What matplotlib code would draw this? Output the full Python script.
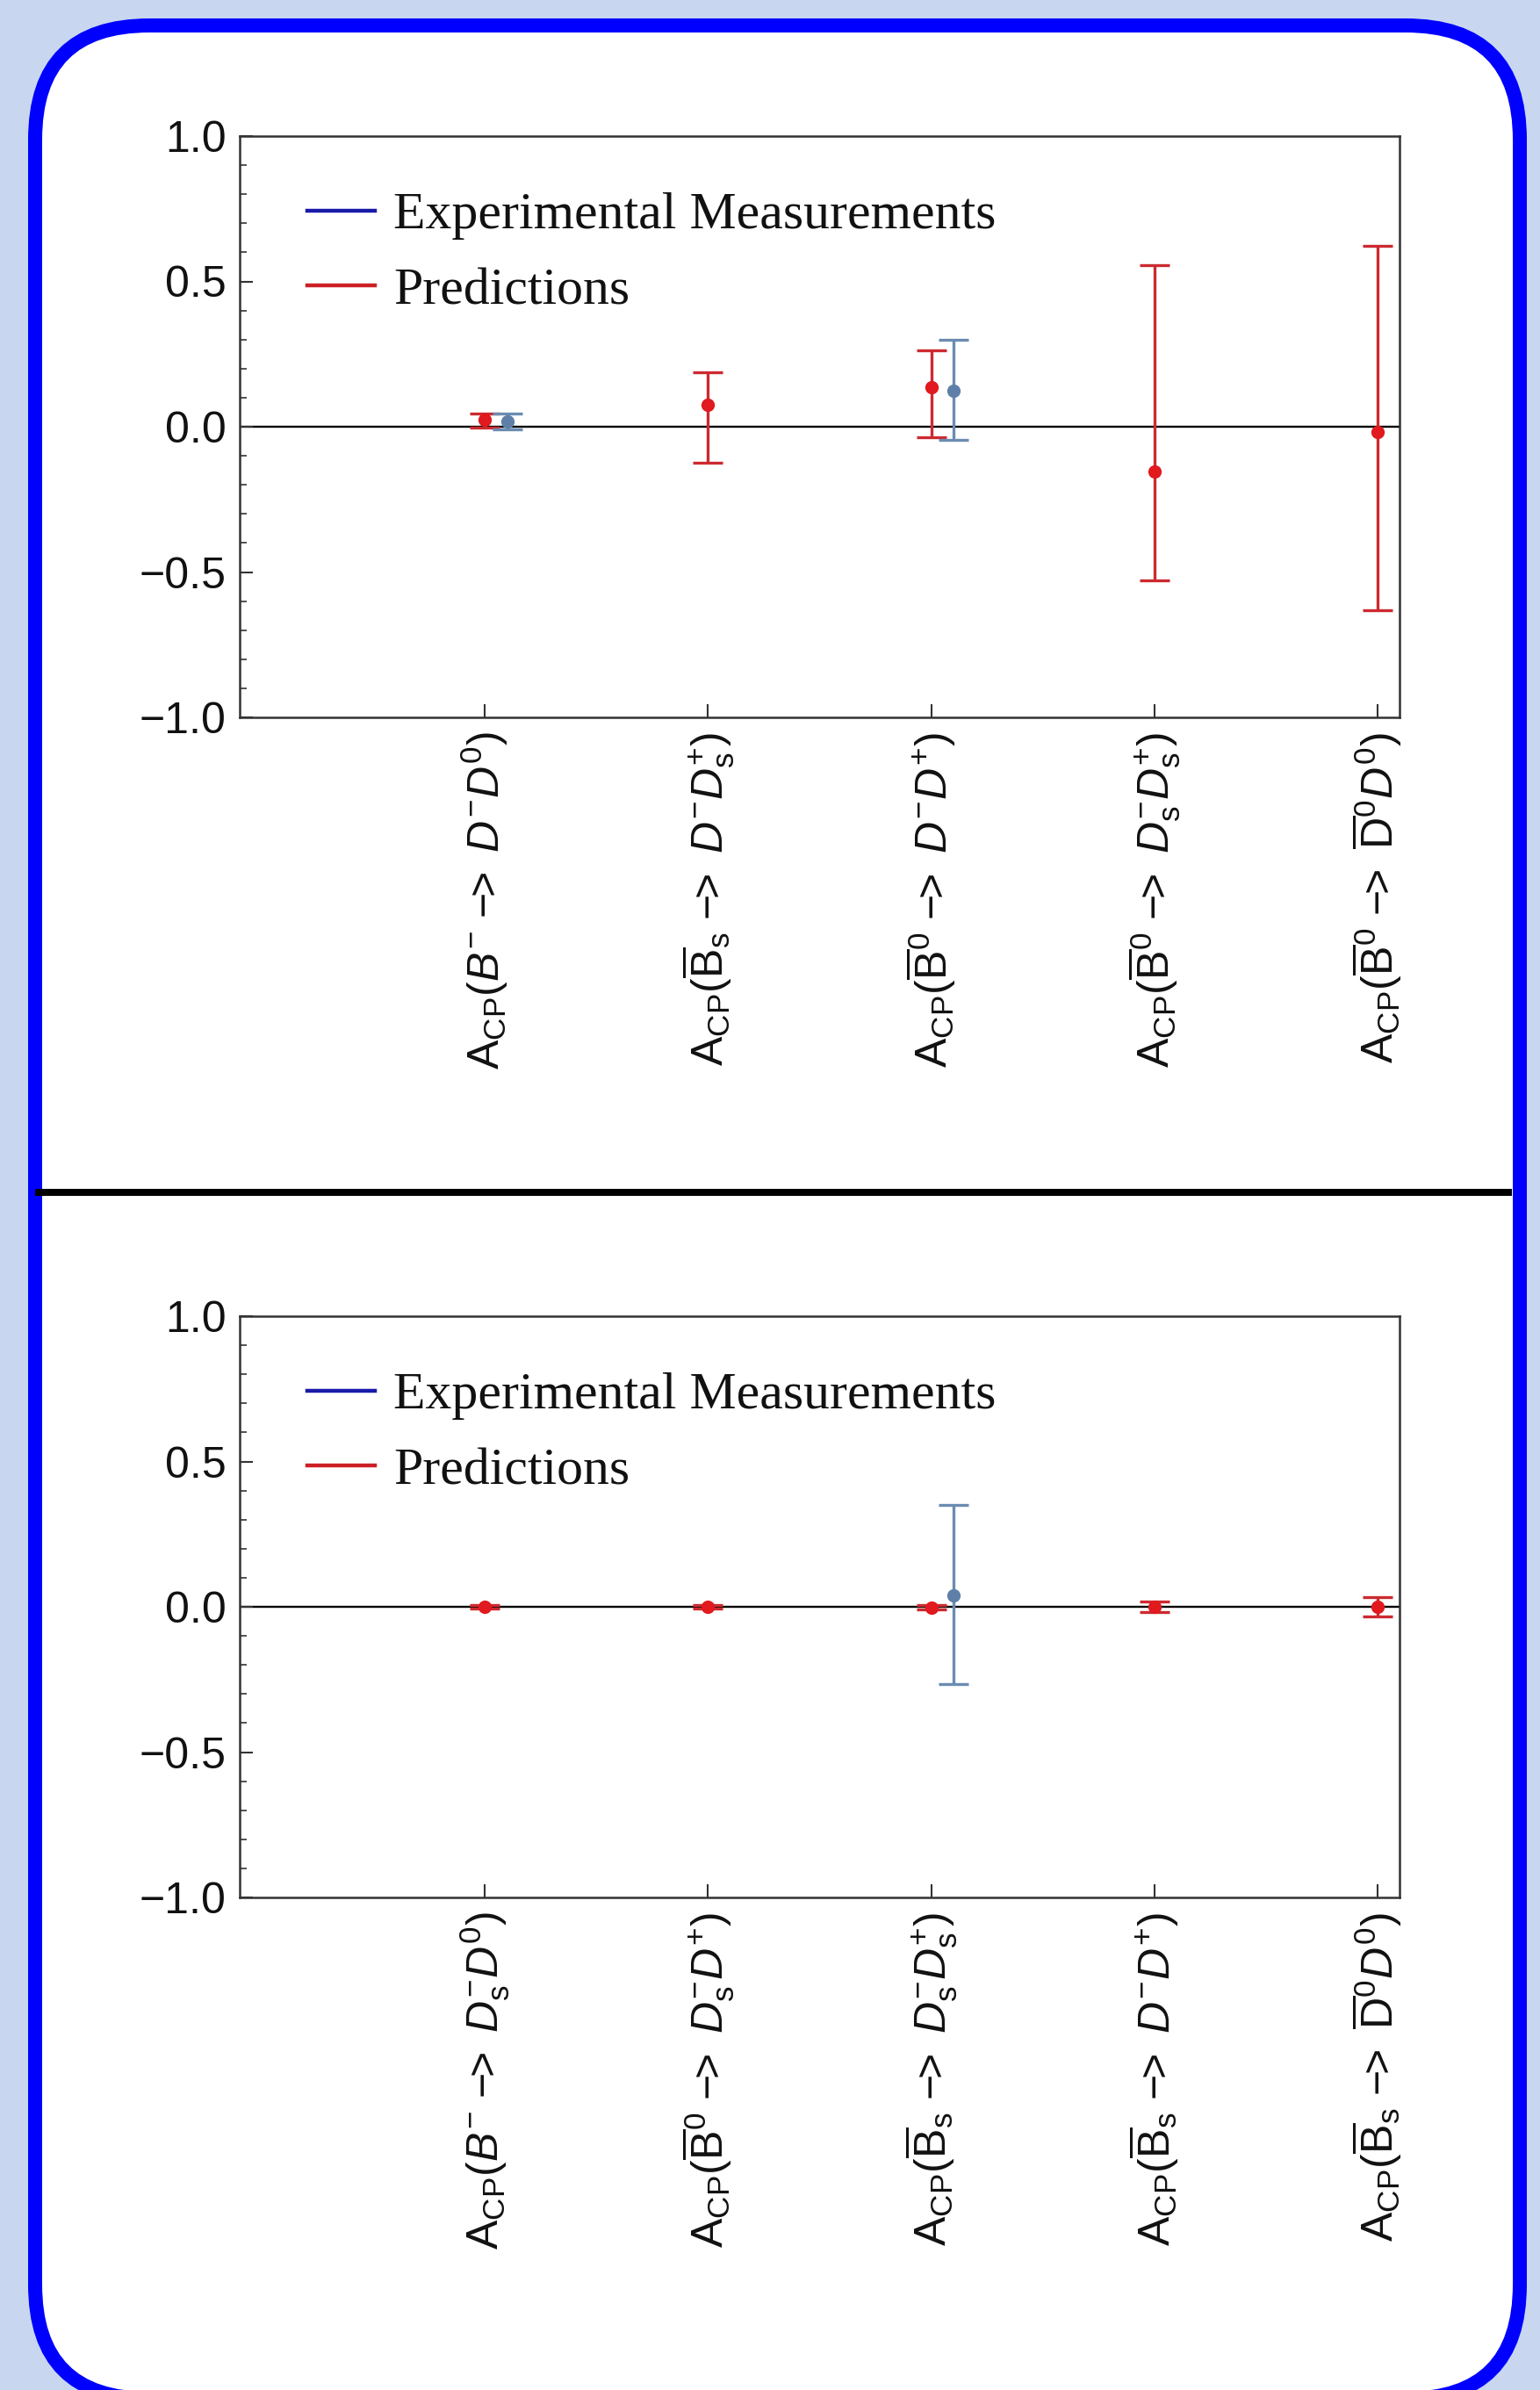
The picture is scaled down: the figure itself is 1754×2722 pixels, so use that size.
import matplotlib
matplotlib.use("Agg")
import matplotlib.pyplot as plt
from matplotlib.patches import FancyBboxPatch
from matplotlib.lines import Line2D
import numpy as np

plt.rcParams['mathtext.fontset'] = 'custom'
plt.rcParams['mathtext.rm'] = 'Liberation Sans'
plt.rcParams['mathtext.it'] = 'Liberation Sans:italic'
plt.rcParams['mathtext.bf'] = 'Liberation Sans:bold'
plt.rcParams['font.family'] = ['Liberation Sans', 'DejaVu Sans']

# ---------------- data ----------------
positions = [1, 2, 3, 4, 5]
exp_offset = 0.1

top_labels = [
    r'$\mathrm{A_{CP}}(B^{-}\ \mathrm{-\!\!>}\ D^{-}D^{0})$',
    r'$\mathrm{A_{CP}}(\overline{\mathrm{B}}_{\mathrm{s}}\ \mathrm{-\!\!>}\ D^{-}D_{\mathrm{s}}^{+})$',
    r'$\mathrm{A_{CP}}(\overline{\mathrm{B}}^{0}\ \mathrm{-\!\!>}\ D^{-}D^{+})$',
    r'$\mathrm{A_{CP}}(\overline{\mathrm{B}}^{0}\ \mathrm{-\!\!>}\ D_{\mathrm{s}}^{-}D_{\mathrm{s}}^{+})$',
    r'$\mathrm{A_{CP}}(\overline{\mathrm{B}}^{0}\ \mathrm{-\!\!>}\ \overline{\mathrm{D}}^{0}D^{0})$',
]
top_pred_center = [0.025, 0.077, 0.136, -0.154, -0.017]
top_pred_upper = [0.045, 0.187, 0.264, 0.557, 0.621]
top_pred_lower = [-0.004, -0.125, -0.035, -0.528, -0.631]
top_exp_pos = [1, 3]
top_exp_center = [0.018, 0.125]
top_exp_upper = [0.045, 0.300]
top_exp_lower = [-0.009, -0.045]

bottom_labels = [
    r'$\mathrm{A_{CP}}(B^{-}\ \mathrm{-\!\!>}\ D_{\mathrm{s}}^{-}D^{0})$',
    r'$\mathrm{A_{CP}}(\overline{\mathrm{B}}^{0}\ \mathrm{-\!\!>}\ D_{\mathrm{s}}^{-}D^{+})$',
    r'$\mathrm{A_{CP}}(\overline{\mathrm{B}}_{\mathrm{s}}\ \mathrm{-\!\!>}\ D_{\mathrm{s}}^{-}D_{\mathrm{s}}^{+})$',
    r'$\mathrm{A_{CP}}(\overline{\mathrm{B}}_{\mathrm{s}}\ \mathrm{-\!\!>}\ D^{-}D^{+})$',
    r'$\mathrm{A_{CP}}(\overline{\mathrm{B}}_{\mathrm{s}}\ \mathrm{-\!\!>}\ \overline{\mathrm{D}}^{0}D^{0})$',
]
bottom_pred_center = [0.0, 0.0, -0.002, 0.0, 0.0]
bottom_pred_upper = [0.005, 0.005, 0.006, 0.017, 0.032]
bottom_pred_lower = [-0.005, -0.005, -0.009, -0.017, -0.034]
bottom_exp_pos = [3]
bottom_exp_center = [0.04]
bottom_exp_upper = [0.35]
bottom_exp_lower = [-0.266]

yticks = [-1.0, -0.5, 0.0, 0.5, 1.0]
ytick_labels = ['\u22121.0', '\u22120.5', '0.0', '0.5', '1.0']
legend_labels = ['Experimental Measurements', 'Predictions']

# ---------------- styles ----------------
W, H = 1754, 2722
DPI = 100
BG = '#C8D7EF'
FRAME_BLUE = '#0000FF'
RED_MK = '#E01A1E'
RED_BAR = '#CC2A30'
BLUE_MK = '#5E80A8'
BLUE_BAR = '#6B8CB2'
LEG_BLUE = '#1A1AAA'
LEG_RED = '#CC2026'
SPINE = '#333333'

fig = plt.figure(figsize=(W / DPI, H / DPI), dpi=DPI)
fig.patch.set_facecolor(BG)


def px(v):
    return v / DPI


bw = 16
x0c, x1c = 32 + bw / 2, 1739 - bw / 2
ytop_c = 21 + bw / 2
ybot_c = 2740 - bw / 2
frame = FancyBboxPatch((px(x0c), px(H - ybot_c)), px(x1c - x0c), px(ybot_c - ytop_c),
                       boxstyle='round,pad=0,rounding_size=%f' % px(130),
                       transform=fig.dpi_scale_trans, facecolor='white',
                       edgecolor=FRAME_BLUE, linewidth=bw * 72 / DPI, zorder=0)
fig.add_artist(frame)

fig.add_artist(Line2D([40 / W, 1722 / W], [1 - 1358 / H, 1 - 1358 / H],
                      color='black', linewidth=8 * 72 / DPI, solid_capstyle='butt',
                      zorder=1))

ax_left = 273 / W
ax_w = (1594 - 273) / W
ax_h = 662 / H
ax_top = fig.add_axes([ax_left, 1 - 817 / H, ax_w, ax_h])
ax_bot = fig.add_axes([ax_left, 1 - 2161 / H, ax_w, ax_h])


def draw_panel(ax, labels, pc, pu, pl, epos, ec, eu, el):
    ax.set_facecolor('white')
    ax.set_xlim(-0.1, 5.1)
    ax.set_ylim(-1.0, 1.0)
    ax.axhline(0, color='black', linewidth=1.7, zorder=1)

    pc_a, pu_a, pl_a = np.array(pc), np.array(pu), np.array(pl)
    ax.errorbar(positions, pc_a, yerr=[pc_a - pl_a, pu_a - pc_a], fmt='o',
                color=RED_MK, ecolor=RED_BAR, elinewidth=2.4, capsize=12,
                capthick=2.4, markersize=10, zorder=3)
    ec_a, eu_a, el_a = np.array(ec), np.array(eu), np.array(el)
    ax.errorbar(np.array(epos) + exp_offset, ec_a, yerr=[ec_a - el_a, eu_a - ec_a],
                fmt='o', color=BLUE_MK, ecolor=BLUE_BAR, elinewidth=2.4,
                capsize=12, capthick=2.4, markersize=10, zorder=3)

    for s in ax.spines.values():
        s.set_color(SPINE)
        s.set_linewidth(1.8)

    ax.set_yticks(yticks)
    ax.set_yticklabels(ytick_labels)
    ax.set_yticks(np.arange(-1.0, 1.0001, 0.1), minor=True)
    ax.tick_params(axis='y', which='major', direction='in', length=11, width=1.5,
                   labelsize=36, pad=11, colors=SPINE, labelcolor='#111111',
                   right=False)
    ax.tick_params(axis='y', which='minor', direction='in', length=6, width=1.2,
                   colors=SPINE, right=False)
    ax.set_xticks(positions)
    ax.set_xticklabels(labels, rotation=90, va='top', ha='center')
    ax.tick_params(axis='x', which='major', direction='in', length=11, width=1.5,
                   labelsize=36, pad=12, colors=SPINE, labelcolor='#111111',
                   top=False)

    handles = [Line2D([], [], color=LEG_BLUE, linewidth=3.2),
               Line2D([], [], color=LEG_RED, linewidth=3.2)]
    leg = ax.legend(handles, legend_labels, loc='upper left',
                    bbox_to_anchor=(0.04, 0.94), frameon=False,
                    prop={'family': 'Liberation Serif', 'size': 43},
                    handlelength=1.3, handletextpad=0.35, labelspacing=0.52,
                    borderaxespad=0)
    for t in leg.get_texts():
        t.set_color('#111111')


draw_panel(ax_top, top_labels, top_pred_center, top_pred_upper, top_pred_lower,
           top_exp_pos, top_exp_center, top_exp_upper, top_exp_lower)
draw_panel(ax_bot, bottom_labels, bottom_pred_center, bottom_pred_upper,
           bottom_pred_lower, bottom_exp_pos, bottom_exp_center,
           bottom_exp_upper, bottom_exp_lower)

fig.savefig('out.png', dpi=DPI, facecolor=fig.get_facecolor())
